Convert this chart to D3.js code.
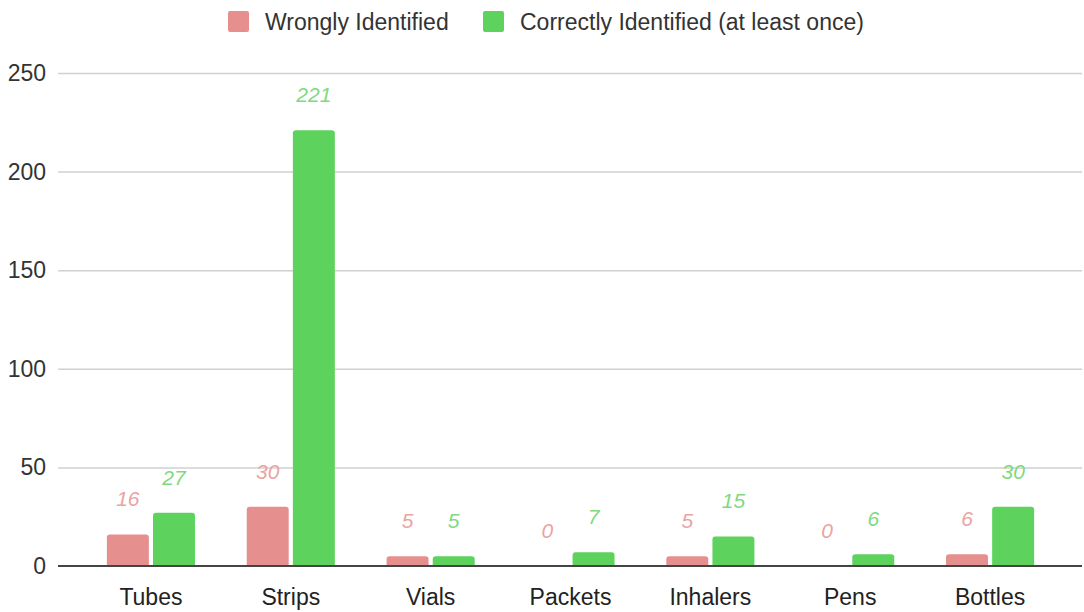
<html>
<head>
    <script src="https://cdn.jsdelivr.net/npm/d3@7"></script>
    <style>
        body { margin: 0; background: #fff; }
        text { font-family: "Liberation Sans", Arial, sans-serif; }
        .gridlines line { stroke: #d0d0d0; stroke-width: 1.5; }
        .gridlines .domain { stroke: none; }
    </style>
</head>
<body>
    <svg width="1084" height="612" id="chart"></svg>
    <script>
        // data
        const categories = ["Tubes", "Strips", "Vials", "Packets", "Inhalers", "Pens", "Bottles"];
        const seriesNames = ["Wrongly Identified", "Correctly Identified (at least once)"];
        const wrongly = [16, 30, 5, 0, 5, 0, 6];
        const correctly = [27, 221, 5, 7, 15, 6, 30];
        const yTicks = [0, 50, 100, 150, 200, 250];

        const barColors = ["#e68f8f", "#5dd35d"];
        const labelColors = ["#eba3a3", "#7fd97f"];

        const svg = d3.select("#chart");
        const gridLeft = 58, gridRight = 1082;

        const x = d3.scaleBand().domain(categories).range([81, 1060]).paddingInner(0.37).paddingOuter(0.185);
        const xSub = d3.scaleBand().domain([0, 1]).range([0, x.bandwidth()]).paddingInner(0.09);
        const y = d3.scaleLinear().domain([0, 250]).range([566, 73]);

        // gridlines
        svg.append("g").attr("class", "gridlines")
            .attr("transform", `translate(${gridLeft},0)`)
            .call(d3.axisLeft(y).tickValues(yTicks.slice(1)).tickSize(-(gridRight - gridLeft)).tickFormat(""));

        // y tick labels
        svg.append("g").selectAll("text").data(yTicks).join("text")
            .attr("x", 46).attr("y", d => y(d)).attr("dy", "0.35em")
            .attr("text-anchor", "end").attr("fill", "#333").style("font-size", "23px")
            .text(d => d);

        const rows = categories.map((c, i) => ({ cat: c, vals: [wrongly[i], correctly[i]] }));

        const groups = svg.append("g").selectAll("g").data(rows).join("g")
            .attr("transform", d => `translate(${x(d.cat)},0)`);

        groups.selectAll("path").data(d => d.vals.map((v, k) => ({ v, k }))).join("path")
            .attr("fill", d => barColors[d.k])
            .attr("d", d => {
                const x0 = xSub(d.k), w = xSub.bandwidth();
                const top = y(d.v), bot = y(0);
                const h = bot - top;
                if (h <= 0) return "";
                const r = Math.min(3, h);
                return `M${x0},${bot}V${top + r}Q${x0},${top} ${x0 + r},${top}H${x0 + w - r}Q${x0 + w},${top} ${x0 + w},${top + r}V${bot}Z`;
            });

        groups.selectAll("text").data(d => d.vals.map((v, k) => ({ v, k }))).join("text")
            .attr("x", d => xSub(d.k) + xSub.bandwidth() / 2)
            .attr("y", d => y(d.v) - 28)
            .attr("text-anchor", "middle")
            .attr("fill", d => labelColors[d.k])
            .style("font-size", "21px").style("font-style", "italic")
            .text(d => d.v);

        // baseline
        svg.append("line").attr("x1", gridLeft).attr("x2", gridRight)
            .attr("y1", y(0)).attr("y2", y(0)).attr("stroke", "#444").attr("stroke-width", 2);

        // x labels
        svg.append("g").selectAll("text").data(categories).join("text")
            .attr("x", d => x(d) + x.bandwidth() / 2).attr("y", 605)
            .attr("text-anchor", "middle").attr("fill", "#222").style("font-size", "23px")
            .text(d => d);

        // legend
        const legendX = [228, 483];
        const legend = svg.append("g").selectAll("g").data(seriesNames).join("g")
            .attr("transform", (d, i) => `translate(${legendX[i]},11)`);
        legend.append("rect").attr("width", 21).attr("height", 21).attr("rx", 2)
            .attr("fill", (d, i) => barColors[i]);
        legend.append("text").attr("x", 37).attr("y", 19).attr("fill", "#333")
            .style("font-size", "23px").text(d => d);
    </script>
</body>
</html>
